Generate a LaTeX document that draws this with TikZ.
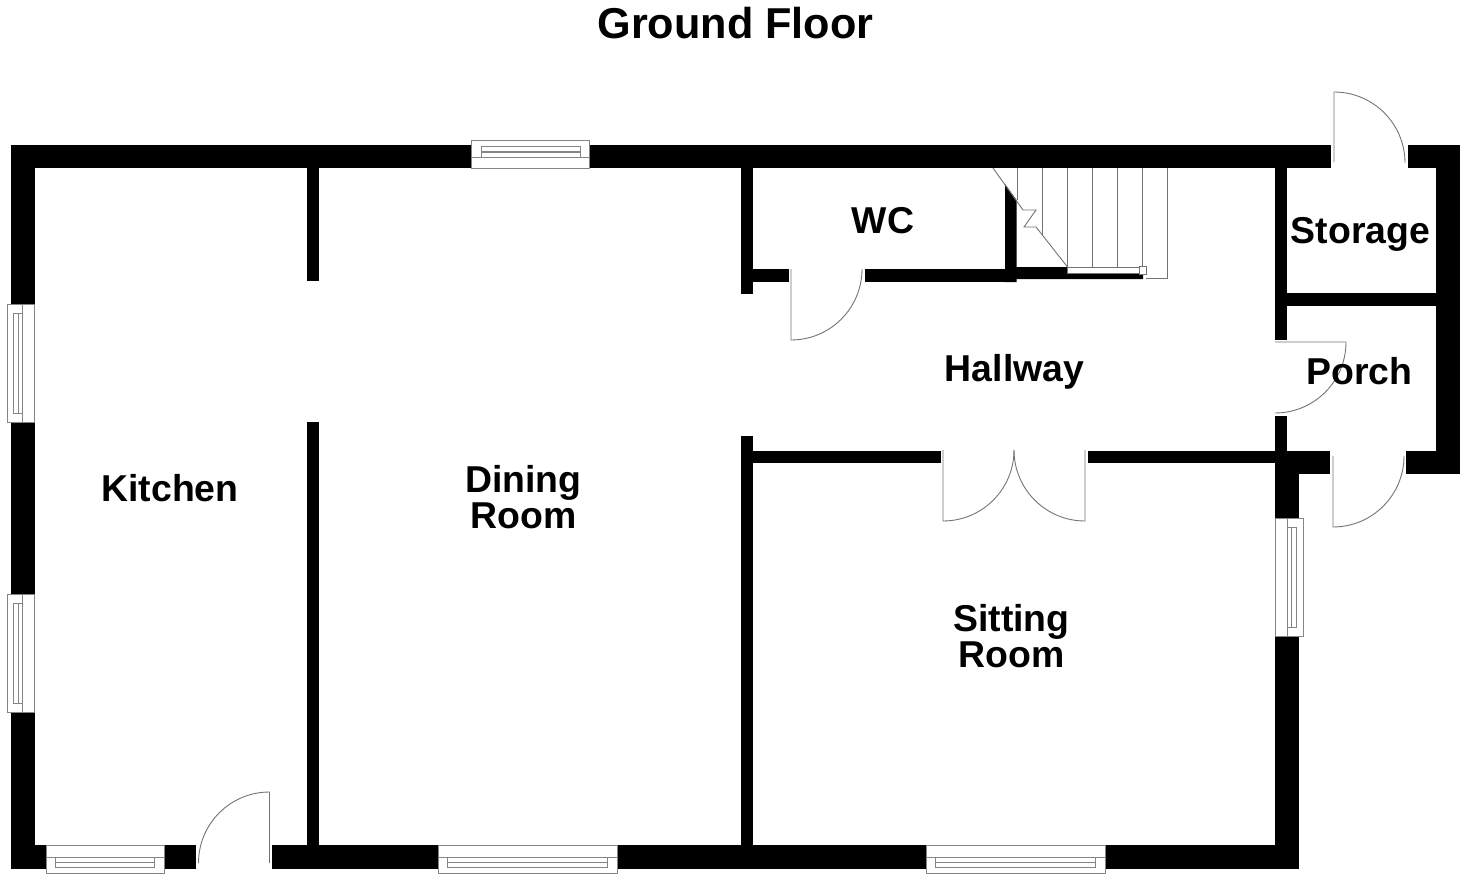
\documentclass[tikz,border=0pt]{standalone}
\usepackage{fontspec}
\setmainfont{Liberation Sans}

\tikzset{
    wall/.style={fill=black, draw=none},
    fitting/.style={draw=black!48, line width=1pt, fill=white},
    leaf/.style={draw=black!55, line width=0.9pt},
    tread/.style={draw=black!55, line width=0.9pt},
    room/.style={font=\fontsize{37.4}{36.5}\selectfont\bfseries, align=center, inner sep=0pt},
}

\begin{document}
\begin{tikzpicture}[x=1pt, y=1pt]
    \useasboundingbox (0,0) rectangle (1464,-880);

    % outer walls
    \fill[wall] (11,-145) rectangle (471,-168);
    \fill[wall] (589,-145) rectangle (1331,-168);
    \fill[wall] (1408,-145) rectangle (1460,-168);
    \fill[wall] (1436,-145) rectangle (1460,-474);
    \fill[wall] (1406,-451) rectangle (1460,-474);
    \fill[wall] (1275,-451) rectangle (1330,-474);
    \fill[wall] (11,-145) rectangle (34.5,-304);
    \fill[wall] (11,-422) rectangle (34.5,-594);
    \fill[wall] (11,-712) rectangle (34.5,-869);
    \fill[wall] (11,-845) rectangle (46,-869);
    \fill[wall] (164,-845) rectangle (196,-869);
    \fill[wall] (272,-845) rectangle (438,-869);
    \fill[wall] (617,-845) rectangle (926,-869);
    \fill[wall] (1105,-845) rectangle (1299,-869);
    \fill[wall] (1275,-474) rectangle (1299,-518);
    \fill[wall] (1275,-636) rectangle (1299,-869);

    % inner walls
    \fill[wall] (307,-168) rectangle (319,-281);
    \fill[wall] (307,-422) rectangle (319,-845);
    \fill[wall] (741,-168) rectangle (753,-294);
    \fill[wall] (741,-436) rectangle (753,-845);
    \fill[wall] (753,-269) rectangle (789,-282);
    \fill[wall] (865,-269) rectangle (1005,-282);
    \fill[wall] (1005,-184) -- (1016.5,-200) -- (1016.5,-282) -- (1005,-282) -- cycle;
    \fill[wall] (1016,-267) -- (1067,-267) -- (1067,-273) -- (1143,-273) -- (1143,-279) -- (1016,-279) -- cycle;
    \fill[wall] (753,-451) rectangle (941,-463);
    \fill[wall] (1088,-451) rectangle (1275,-463);
    \fill[wall] (1275,-168) rectangle (1287,-340);
    \fill[wall] (1275,-416) rectangle (1287,-474);
    \fill[wall] (1287,-293) rectangle (1436,-306);

    % windows
    \foreach \xa/\xb in {46/164, 438/617, 926/1105} {
        \draw[fitting] (\xa,-845) rectangle (\xb,-873);
        \draw[fitting] (\xa,-857) -- (\xb,-857);
        \draw[fitting] (\xa+9.5,-857) rectangle (\xb-9.5,-867);
        \draw[fitting] (\xa+9.5,-862) -- (\xb-9.5,-862);
    }
    \draw[fitting] (471,-141) rectangle (589,-168);
    \draw[fitting] (471,-157) -- (589,-157);
    \draw[fitting] (481,-147) rectangle (580,-157);
    \draw[fitting] (481,-152) -- (580,-152);
    \foreach \ya/\yb in {304/422, 594/712} {
        \draw[fitting] (7,-\ya) rectangle (34,-\yb);
        \draw[fitting] (22,-\ya) -- (22,-\yb);
        \draw[fitting] (13,-\ya-9) rectangle (22,-\yb+9);
        \draw[fitting] (18,-\ya-9) -- (18,-\yb+9);
    }
    \draw[fitting] (1275,-518) rectangle (1303,-636);
    \draw[fitting] (1287,-518) -- (1287,-636);
    \draw[fitting] (1287,-527) rectangle (1296,-627);
    \draw[fitting] (1291.5,-527) -- (1291.5,-627);

    % doors
    \draw[leaf] (269.5,-863) -- (269.5,-792) arc[start angle=90, end angle=180, radius=71];
    \draw[leaf] (791,-269) -- (791,-340) arc[start angle=270, end angle=360, radius=71];
    \draw[leaf] (943,-450) -- (943,-521) arc[start angle=270, end angle=360, radius=71];
    \draw[leaf] (1085,-450) -- (1085,-521) arc[start angle=270, end angle=180, radius=71];
    \draw[leaf] (1275,-342) -- (1346,-342) arc[start angle=0, end angle=-90, radius=71];
    \draw[leaf] (1333,-456) -- (1333,-527) arc[start angle=270, end angle=360, radius=71];
    \draw[leaf] (1334,-162) -- (1334,-92) arc[start angle=90, end angle=0, radius=71];

    % stairs
    \draw[tread] (1017,-168) -- (1017,-200);
    \draw[tread] (1042,-168) -- (1042,-235);
    \draw[tread] (1067.5,-168) -- (1067.5,-267);
    \draw[tread] (1092.5,-168) -- (1092.5,-267);
    \draw[tread] (1117.5,-168) -- (1117.5,-267);
    \draw[tread] (1142.5,-168) -- (1142.5,-267);
    \draw[tread] (1167.5,-168) -- (1167.5,-278) -- (1146,-278);
    \draw[tread] (993,-168) -- (1023,-210) -- (1036,-210) -- (1024,-227) -- (1036,-227) -- (1067.5,-267);
    \draw[tread, fill=white] (1067.5,-267) rectangle (1143,-273);
    \draw[tread, fill=white] (1139,-266) rectangle (1146,-274);

    % rooms
    \node[font=\fontsize{43.2}{43}\selectfont\bfseries, inner sep=0pt] (title) at (735.5,-23) {Ground Floor};
    \node[room] (kitchen) at (170,-488) {Kitchen};
    \node[room] (dining) at (523.5,-497) {Dining\\Room};
    \node[room] (sitting) at (1011.5,-636) {Sitting\\Room};
    \node[room] (hallway) at (1014.5,-372) {Hallway};
    \node[room] (wc) at (883,-221) {WC};
    \node[room] (storage) at (1360.5,-234) {Storage};
    \node[room] (porch) at (1359.5,-371) {Porch};
\end{tikzpicture}
\end{document}
